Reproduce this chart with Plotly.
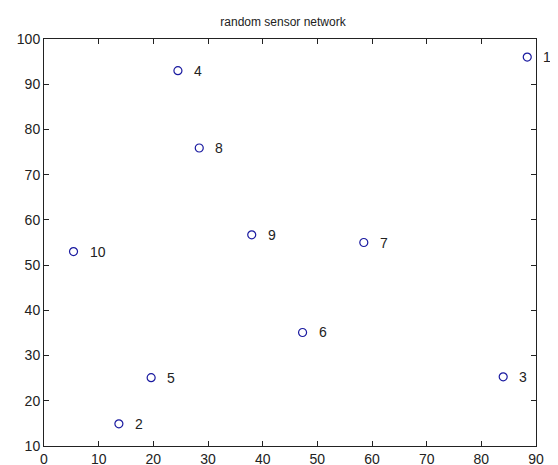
import plotly.graph_objects as go

node_ids = [1, 2, 3, 4, 5, 6, 7, 8, 9, 10]
x_vals = [88.4, 13.7, 84.0, 24.5, 19.6, 47.3, 58.5, 28.4, 38.0, 5.4]
y_vals = [96.0, 14.9, 25.3, 93.0, 25.1, 35.1, 55.0, 75.9, 56.7, 53.0]
x_ticks = [0, 10, 20, 30, 40, 50, 60, 70, 80, 90]
y_ticks = [10, 20, 30, 40, 50, 60, 70, 80, 90, 100]

font_family = "Liberation Sans, Arial, sans-serif"

# page body has an 8px margin; size the figure so the plot area lands where the reference has it
W, H = 550, 457

fig = go.Figure()
fig.add_trace(go.Scatter(
    x=x_vals, y=y_vals, mode="markers",
    marker=dict(symbol="circle-open", size=8, color="#1a1aa0", line=dict(width=1.2, color="#1a1aa0")),
    showlegend=False, cliponaxis=False,
))
for n, xv, yv in zip(node_ids, x_vals, y_vals):
    fig.add_annotation(x=xv, y=yv, xref="x", yref="y", text=str(n), showarrow=False,
                       xanchor="left", yanchor="middle", xshift=14,
                       font=dict(family=font_family, size=14, color="#222222"))

axis_common = dict(
    showgrid=False, zeroline=False, showline=True, linecolor="#222222", linewidth=1,
    mirror="ticks", ticks="inside", ticklen=5, tickcolor="#222222", automargin=False,
    tickfont=dict(family=font_family, size=14, color="#222222"),
)
fig.update_xaxes(range=[0, 90], tickvals=x_ticks, ticktext=[str(t) for t in x_ticks], **axis_common)
fig.update_yaxes(range=[10, 100], tickvals=y_ticks, ticktext=[str(t) for t in y_ticks], **axis_common)

fig.update_layout(
    width=W, height=H,
    margin=dict(l=36, r=22, t=31, b=19, autoexpand=False),
    paper_bgcolor="white", plot_bgcolor="white",
    title=dict(text="random sensor network", x=0.5, xanchor="center", y=1 - 14/H, yanchor="middle",
               font=dict(family=font_family, size=12, color="#222222")),
)

fig.write_html("out.html")
